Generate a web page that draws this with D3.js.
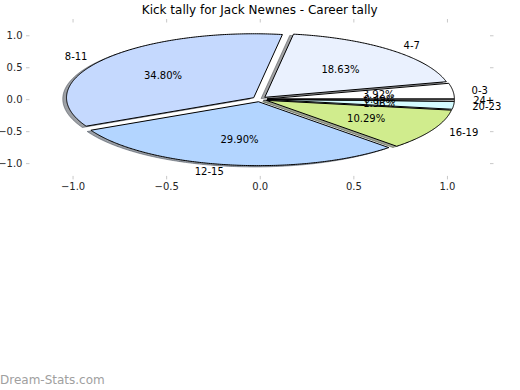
<!DOCTYPE html>
<html>
<head>
<meta charset="utf-8">
<script src="https://cdn.jsdelivr.net/npm/d3@7"></script>
<style>
body { margin: 0; background: #fff; }
svg { font-family: 'DejaVu Sans', sans-serif; }
</style>
</head>
<body>
<svg></svg>
<script>
var labels = ['0-3', '4-7', '8-11', '12-15', '16-19', '20-23', '24+']
var kicks = [8, 38, 71, 61, 21, 4, 1]
var explode = [0.04, 0.04, 0.04, 0.04, 0.04, 0.04, 0.04]
var colors = ['#ffffff', '#eaf1fe', '#c5d9fe', '#b3d5ff', '#d0ec8d', '#d5fbff', '#f2f2f2']
var xTicks = [-1.0, -0.5, 0.0, 0.5, 1.0]
var yTicks = [-1.0, -0.5, 0.0, 0.5, 1.0]

var width = 520
var height = 390

var svg = d3.select('svg')
svg.attr('width', width).attr('height', height)

// axes box, data coords -> pixels (pie is stretched, not equal aspect)
var x = d3.scaleLinear().domain([-1.23, 1.23]).range([29.5, 490])
var y = d3.scaleLinear().domain([-1.2, 1.2]).range([175.9, 22.5])

var total = d3.sum(kicks)

// angles counterclockwise from 3 o'clock, like matplotlib
var slices = d3.pie().sort(null).value(function(d) {return d})(kicks).map(function(s, i) {
	var mid = (s.startAngle + s.endAngle) / 2
	return {
		label: labels[i],
		value: s.value,
		color: colors[i],
		startAngle: s.startAngle,
		endAngle: s.endAngle,
		mid: mid,
		cx: explode[i] * Math.cos(mid),
		cy: explode[i] * Math.sin(mid)
	}
})

var line = d3.line()
	.x(function(p) {return x(p[0])})
	.y(function(p) {return y(p[1])})

function wedgePath(d, ox, oy) {
	var pts = [[d.cx + ox, d.cy + oy]]
	var n = Math.max(2, Math.ceil((d.endAngle - d.startAngle) / 0.01))
	for (var i = 0; i <= n; i++) {
		var t = d.startAngle + (d.endAngle - d.startAngle) * i / n
		pts.push([d.cx + ox + Math.cos(t), d.cy + oy + Math.sin(t)])
	}
	return line(pts) + 'Z'
}

// ticks only, no spines
var tickColor = '#c8c8c8'
function styleAxis(g) {
	g.select('.domain').remove()
	g.selectAll('.tick line').attr('stroke', tickColor)
	g.selectAll('.tick text')
		.attr('fill', '#262626')
		.style('font-family', "'DejaVu Sans', sans-serif")
		.style('font-size', '10px')
}

svg.append('g')
	.attr('transform', 'translate(0,' + y(-1.2) + ')')
	.call(d3.axisBottom(x).tickValues(xTicks).tickSize(3.5).tickPadding(3.5).tickFormat(d3.format('.1f')))
	.call(styleAxis)
svg.append('g')
	.attr('transform', 'translate(0,' + y(1.2) + ')')
	.call(d3.axisTop(x).tickValues(xTicks).tickSize(3.5).tickFormat(''))
	.call(styleAxis)
svg.append('g')
	.attr('transform', 'translate(' + x(-1.23) + ',0)')
	.call(d3.axisLeft(y).tickValues(yTicks).tickSize(3.5).tickPadding(3.5).tickFormat(d3.format('.1f')))
	.call(styleAxis)
svg.append('g')
	.attr('transform', 'translate(' + x(1.23) + ',0)')
	.call(d3.axisRight(y).tickValues(yTicks).tickSize(3.5).tickFormat(''))
	.call(styleAxis)

// shadows go under every wedge
var shadowGroup = svg.append('g').attr('class', 'shadows')
shadowGroup.selectAll('path')
	.data(slices)
	.enter().append('path')
	.attr('d', function(d) {return wedgePath(d, -0.02, -0.02)})
	.attr('fill', function(d) {var c = d3.rgb(d.color); return d3.rgb(c.r * 0.3, c.g * 0.3, c.b * 0.3)})
	.attr('fill-opacity', 0.5)
	.attr('stroke', function(d) {var c = d3.rgb(d.color); return d3.rgb(c.r * 0.3, c.g * 0.3, c.b * 0.3)})
	.attr('stroke-opacity', 0.5)
	.attr('stroke-width', 1)

var wedgeGroup = svg.append('g').attr('class', 'wedges')
wedgeGroup.selectAll('path')
	.data(slices)
	.enter().append('path')
	.attr('d', function(d) {return wedgePath(d, 0, 0)})
	.attr('fill', function(d) {return d.color})
	.attr('stroke', '#000')
	.attr('stroke-width', 1)
	.attr('stroke-linejoin', 'miter')

// category labels at 1.1 radius
svg.append('g').selectAll('text')
	.data(slices)
	.enter().append('text')
	.attr('x', function(d) {return x(d.cx + 1.1 * Math.cos(d.mid))})
	.attr('y', function(d) {return y(d.cy + 1.1 * Math.sin(d.mid))})
	.attr('dy', '0.36em')
	.attr('text-anchor', function(d) {return (d.cx + 1.1 * Math.cos(d.mid)) > 0 ? 'start' : 'end'})
	.attr('font-size', '10px')
	.attr('fill', '#000')
	.text(function(d) {return d.label})

// percentages at 0.6 radius
svg.append('g').selectAll('text')
	.data(slices)
	.enter().append('text')
	.attr('x', function(d) {return x(d.cx + 0.6 * Math.cos(d.mid))})
	.attr('y', function(d) {return y(d.cy + 0.6 * Math.sin(d.mid))})
	.attr('dy', '0.36em')
	.attr('text-anchor', 'middle')
	.attr('font-size', '10px')
	.attr('fill', '#000')
	.text(function(d) {return (d.value / total * 100).toFixed(2) + '%'})

svg.append('text')
	.attr('x', (x(-1.23) + x(1.23)) / 2)
	.attr('y', 13.8)
	.attr('text-anchor', 'middle')
	.attr('font-size', '12px')
	.attr('fill', '#000')
	.text('Kick tally for Jack Newnes - Career tally')

svg.append('text')
	.attr('x', 0)
	.attr('y', 384)
	.attr('font-size', '12px')
	.attr('fill', '#a0a0a0')
	.text('Dream-Stats.com')
</script>
</body>
</html>
